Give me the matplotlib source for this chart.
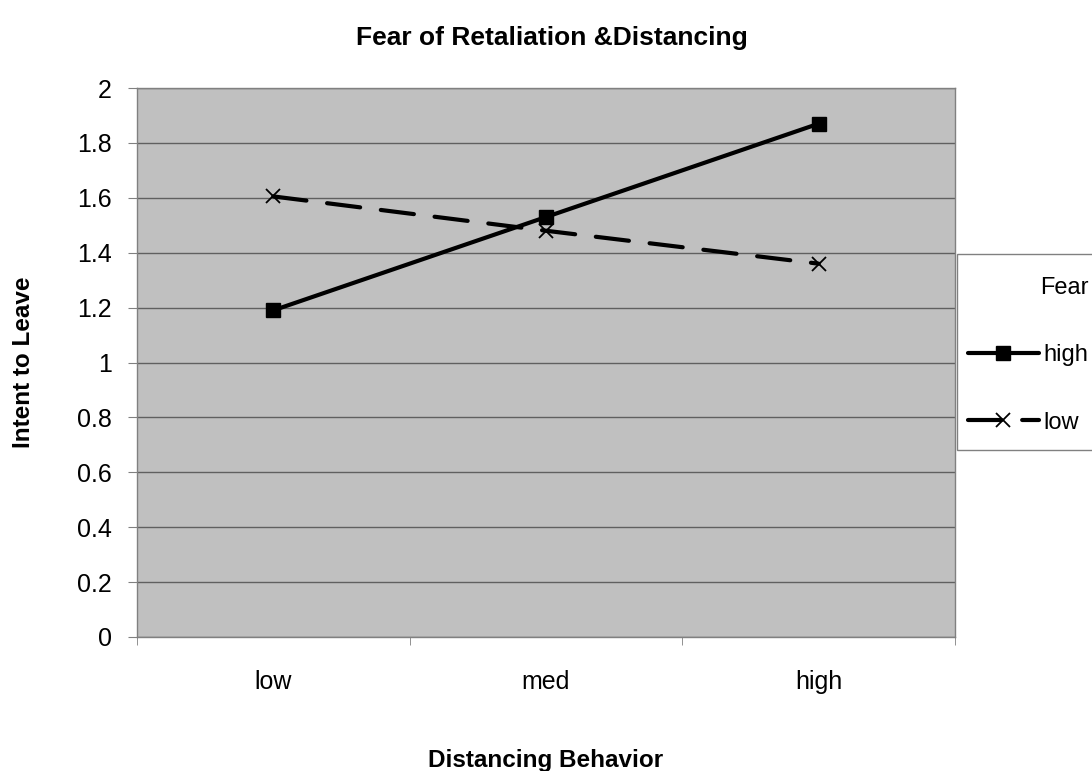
import matplotlib.pyplot as plt
import numpy as np

plt.rcParams['font.family'] = ['Liberation Sans', 'DejaVu Sans']

categories = ['low', 'med', 'high']
fear_high = [1.19, 1.53, 1.87]
fear_low = [1.605, 1.48, 1.36]

fig = plt.figure(figsize=(10.92, 7.71), dpi=100)
ax = fig.add_axes([137/1092, 1 - 637/771, (955-137)/1092, (637-88)/771])
ax.set_facecolor('#c0c0c0')

x = np.arange(len(categories))
ax.plot(x, fear_high, color='black', lw=3, marker='s', ms=9.5,
        solid_capstyle='round', label='high', zorder=3)
ax.plot(x, fear_low, color='black', lw=3, marker='x', ms=10, mew=1.3,
        dashes=(8, 5), dash_capstyle='round', label='low', zorder=3)

ax.set_xlim(-0.5, 2.5)
ax.set_ylim(0, 2)
ax.set_yticks(np.arange(0, 2.01, 0.2))
ax.set_yticklabels(['0', '0.2', '0.4', '0.6', '0.8', '1', '1.2', '1.4', '1.6', '1.8', '2'])
ax.set_xticks(x)
ax.set_xticklabels(categories)
ax.set_xticks([-0.5, 0.5, 1.5, 2.5], minor=True)
ax.tick_params(axis='x', which='major', length=0, pad=24, labelsize=18)
ax.tick_params(axis='x', which='minor', length=6, color='#808080')
ax.tick_params(axis='y', length=6.5, color='#808080', labelsize=18, pad=11.5)
ax.yaxis.grid(True, color='#606060', lw=1)
ax.set_axisbelow(True)
for s in ax.spines.values():
    s.set_color('#808080')
    s.set_linewidth(1)

ax.set_title('Fear of Retaliation &Distancing', fontsize=19, fontweight='bold',
             pad=31, x=(552-137)/818)
ax.set_xlabel('Distancing Behavior', fontsize=17.5, fontweight='bold', labelpad=39)
ax.set_ylabel('Intent to Leave', fontsize=17.5, fontweight='bold', labelpad=30)

# legend box (runs past the right edge, as in the original)
fig.patches.append(plt.Rectangle((957/1092, 1 - 450/771), 150/1092, 196/771,
                                 transform=fig.transFigure, facecolor='white',
                                 edgecolor='#808080', lw=1, zorder=1))
leg = fig.legend(loc='upper left', bbox_to_anchor=(968/1092, 1 - 277/771),
                 title='Fear', fontsize=17, title_fontsize=17, frameon=False,
                 handlelength=3.0, labelspacing=1.92, borderpad=0,
                 handletextpad=0.2, borderaxespad=0, alignment='right')

fig.savefig('out.png', dpi=100)
